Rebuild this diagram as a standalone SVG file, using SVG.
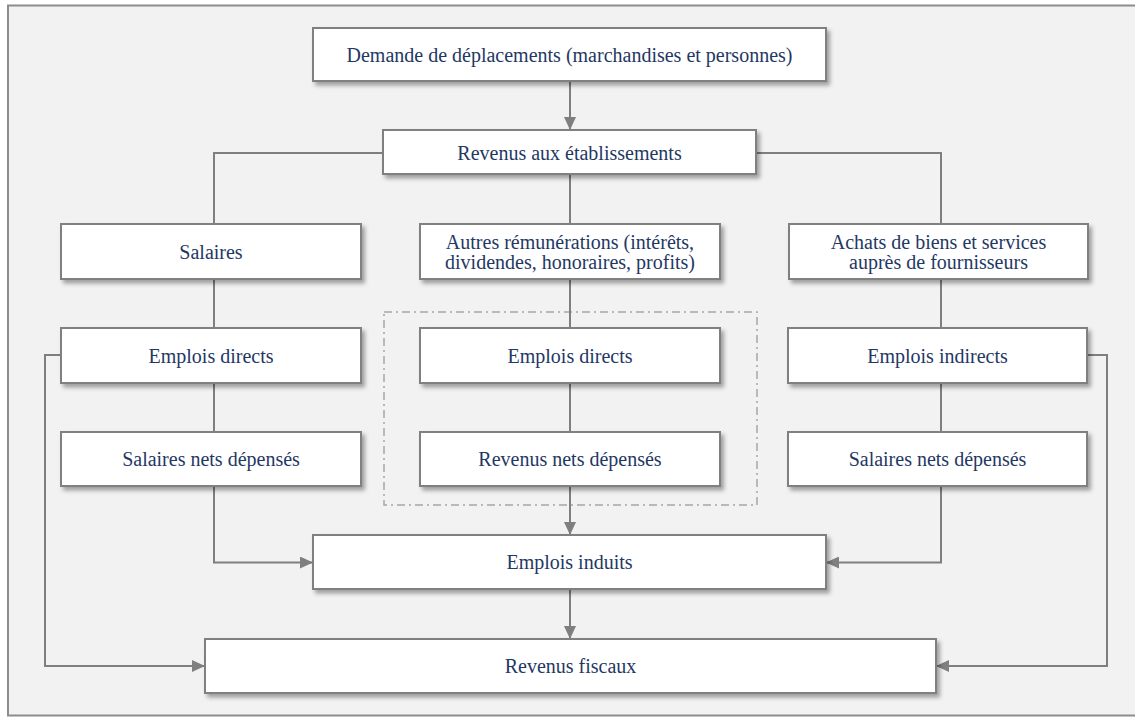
<svg xmlns="http://www.w3.org/2000/svg" width="1135" height="717" viewBox="0 0 1135 717">
<defs>
<filter id="sh" x="-10%" y="-20%" width="130%" height="160%">
<feDropShadow dx="3" dy="3.5" stdDeviation="2" flood-color="#000" flood-opacity="0.35"/>
</filter>
<marker id="ah" markerUnits="userSpaceOnUse" markerWidth="14" markerHeight="12" refX="13" refY="6" orient="auto">
<path d="M0,0 L13,6 L0,12 Z" fill="#7f7f7f"/>
</marker>
<style>
.box{fill:#ffffff;stroke:#808080;stroke-width:2;filter:url(#sh)}
.t{font-family:"Liberation Serif","Times New Roman",serif;font-size:20px;fill:#1f3864;text-anchor:middle}
.c{fill:none;stroke:#7f7f7f;stroke-width:2}
.a{marker-end:url(#ah)}
</style>
</defs>
<rect x="0" y="0" width="1135" height="717" fill="#ffffff"/>
<rect x="8" y="5.5" width="1140" height="710" fill="#f2f2f2" stroke="#8c8c8c" stroke-width="2"/>
<rect id="groupe-central" x="384" y="312" width="373" height="193" fill="none" stroke="#a6a6a6" stroke-width="1.5" stroke-dasharray="8 4 2 4"/>
<g id="connectors">
<path class="c a" d="M570,81 V130"/>
<path class="c" d="M383,153 H214 V224"/>
<path class="c" d="M756,153 H941 V224"/>
<path class="c" d="M570,174 V224"/>
<path class="c" d="M214,279 V328 M214,383 V432"/>
<path class="c" d="M570,279 V328 M570,383 V432"/>
<path class="c" d="M941,279 V328 M941,383 V432"/>
<path class="c a" d="M214,486 V562.5 H313"/>
<path class="c a" d="M941,486 V562.5 H826"/>
<path class="c a" d="M570,486 V535"/>
<path class="c a" d="M570,589 V639"/>
<path class="c a" d="M61,355 H45 V666 H205"/>
<path class="c a" d="M1088,355 H1107 V666 H936"/>
</g>
<g id="demande"><rect class="box" x="313" y="28" width="513" height="53"/><text class="t" x="569.5" y="62">Demande de déplacements (marchandises et personnes)</text></g>
<g id="revenus-etab"><rect class="box" x="383" y="130" width="373" height="44"/><text class="t" x="569.5" y="159.5">Revenus aux établissements</text></g>
<g id="salaires"><rect class="box" x="61" y="224" width="300" height="55"/><text class="t" x="211" y="258.5">Salaires</text></g>
<g id="autres"><rect class="box" x="420" y="224" width="300" height="55"/><text class="t" x="570" y="248.5">Autres rémunérations (intérêts,</text><text class="t" x="570" y="269">dividendes, honoraires, profits)</text></g>
<g id="achats"><rect class="box" x="789" y="224" width="299" height="55"/><text class="t" x="938.5" y="248.5">Achats de biens et services</text><text class="t" x="938.5" y="269">auprès de fournisseurs</text></g>
<g id="emplois-directs-1"><rect class="box" x="61" y="328" width="300" height="55"/><text class="t" x="211" y="362.5">Emplois directs</text></g>
<g id="emplois-directs-2"><rect class="box" x="420" y="328" width="300" height="55"/><text class="t" x="570" y="362.5">Emplois directs</text></g>
<g id="emplois-indirects"><rect class="box" x="788" y="328" width="299" height="55"/><text class="t" x="937.5" y="362.5">Emplois indirects</text></g>
<g id="salaires-nets-1"><rect class="box" x="61" y="432" width="300" height="54"/><text class="t" x="211" y="466">Salaires nets dépensés</text></g>
<g id="revenus-nets"><rect class="box" x="420" y="432" width="300" height="54"/><text class="t" x="570" y="466">Revenus nets dépensés</text></g>
<g id="salaires-nets-2"><rect class="box" x="788" y="432" width="299" height="54"/><text class="t" x="937.5" y="466">Salaires nets dépensés</text></g>
<g id="emplois-induits"><rect class="box" x="313" y="535" width="513" height="54"/><text class="t" x="569.5" y="569">Emplois induits</text></g>
<g id="revenus-fiscaux"><rect class="box" x="205" y="639" width="731" height="54"/><text class="t" x="570.5" y="673">Revenus fiscaux</text></g>
</svg>
